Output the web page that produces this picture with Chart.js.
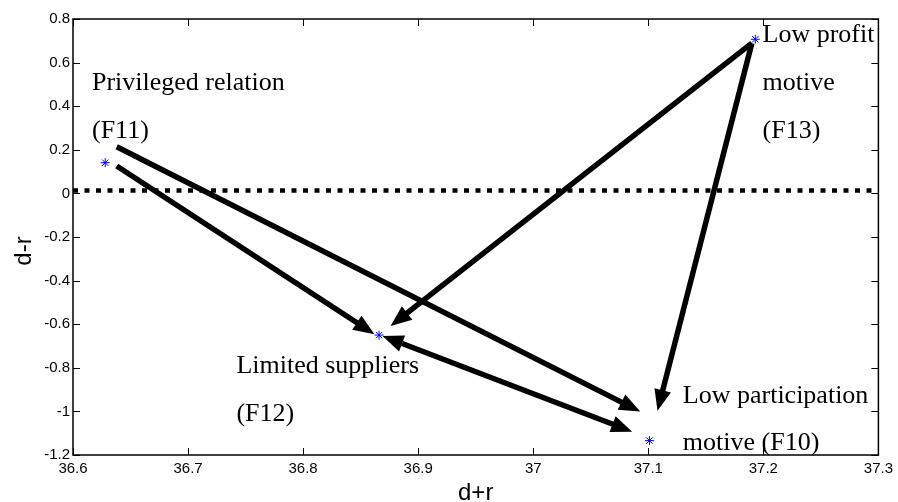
<!DOCTYPE html>
<html>
<head>
<meta charset="utf-8">
<script src="https://cdn.jsdelivr.net/npm/chart.js@4"></script>
<style>
  html, body { margin: 0; padding: 0; background: #fff; }
  #wrap { width: 898px; height: 502px; }
</style>
</head>
<body>
<div id="wrap"><canvas id="c" width="898" height="502"></canvas></div>
<script>
// factor points (d+r, d-r)
const pointX = [36.628, 36.866, 37.101, 37.193];
const pointY = [0.141, -0.650, -1.134, 0.707];

// threshold line
const refLineX = [36.6, 37.294];
const refLineY = [0.013, 0.013];

// arrows: from -> to (data units), double = heads at both ends
const arrowFromX = [36.638, 36.638, 37.190, 37.190, 36.869];
const arrowFromY = [0.214, 0.126, 0.689, 0.689, -0.654];
const arrowToX = [37.093, 36.862, 36.876, 37.108, 37.086];
const arrowToY = [-1.001, -0.646, -0.608, -0.997, -1.093];
const arrowDouble = [false, false, false, false, true];

// text annotations (left x, baseline y, data units)
const labelText = ['Privileged relation', '(F11)', 'Low profit', 'motive', '(F13)',
  'Limited suppliers', '(F12)', 'Low participation', 'motive (F10)'];
const labelX = [36.6165, 36.6165, 37.1993, 37.1993, 37.1993, 36.742, 36.742, 37.130, 37.130];
const labelY = [0.474, 0.254, 0.694, 0.474, 0.254, -0.824, -1.044, -0.963, -1.177];

const fmt = v => String(Number(v.toFixed(1)));

function arrowHead(ctx, tx, ty, ux, uy, len, w) {
  const bx = tx - ux * len, by = ty - uy * len;
  ctx.beginPath();
  ctx.moveTo(tx, ty);
  ctx.lineTo(bx - uy * w / 2, by + ux * w / 2);
  ctx.lineTo(bx + uy * w / 2, by - ux * w / 2);
  ctx.closePath();
  ctx.fill();
  return [bx, by];
}

const overlay = {
  id: 'overlay',
  afterDatasetsDraw(chart) {
    const { ctx, chartArea: a, scales: { x, y } } = chart;
    ctx.save();
    ctx.fillStyle = '#000';
    ctx.strokeStyle = '#000';

    // arrows
    const headLen = 21, headW = 17;
    ctx.lineWidth = 5.5;
    ctx.lineCap = 'butt';
    for (let i = 0; i < arrowFromX.length; i++) {
      const x1 = x.getPixelForValue(arrowFromX[i]), y1 = y.getPixelForValue(arrowFromY[i]);
      const x2 = x.getPixelForValue(arrowToX[i]), y2 = y.getPixelForValue(arrowToY[i]);
      const d = Math.hypot(x2 - x1, y2 - y1);
      const ux = (x2 - x1) / d, uy = (y2 - y1) / d;
      const [bx, by] = arrowHead(ctx, x2, y2, ux, uy, headLen, headW);
      let sx = x1, sy = y1;
      if (arrowDouble[i]) [sx, sy] = arrowHead(ctx, x1, y1, -ux, -uy, headLen, headW);
      ctx.beginPath();
      ctx.moveTo(sx, sy);
      ctx.lineTo(bx + ux, by + uy);
      ctx.stroke();
    }

    // annotations
    ctx.font = '26px "Liberation Serif", "Times New Roman", serif';
    ctx.textAlign = 'left';
    ctx.textBaseline = 'alphabetic';
    labelText.forEach((t, i) => {
      ctx.fillText(t, x.getPixelForValue(labelX[i]), y.getPixelForValue(labelY[i]));
    });

    // axes box
    ctx.lineWidth = 1.5;
    ctx.strokeRect(a.left, a.top, a.right - a.left, a.bottom - a.top);

    // inward ticks on all sides
    ctx.lineWidth = 1;
    const tl = 7;
    ctx.beginPath();
    x.ticks.forEach(t => {
      const px = Math.round(x.getPixelForValue(t.value)) + 0.5;
      ctx.moveTo(px, a.bottom); ctx.lineTo(px, a.bottom - tl);
      ctx.moveTo(px, a.top); ctx.lineTo(px, a.top + tl);
    });
    y.ticks.forEach(t => {
      const py = Math.round(y.getPixelForValue(t.value)) + 0.5;
      ctx.moveTo(a.left, py); ctx.lineTo(a.left + tl, py);
      ctx.moveTo(a.right, py); ctx.lineTo(a.right - tl, py);
    });
    ctx.stroke();

    // axis titles
    ctx.font = '24px "Liberation Sans", Arial, sans-serif';
    ctx.textAlign = 'center';
    ctx.textBaseline = 'alphabetic';
    ctx.fillText('d+r', (a.left + a.right) / 2, 500);
    ctx.save();
    ctx.translate(31, (a.top + a.bottom) / 2 + 14);
    ctx.rotate(-Math.PI / 2);
    ctx.fillText('d-r', 0, 0);
    ctx.restore();

    ctx.restore();
  }
};

new Chart(document.getElementById('c'), {
  type: 'scatter',
  data: {
    datasets: [
      {
        type: 'line',
        data: refLineX.map((v, i) => ({ x: v, y: refLineY[i] })),
        borderColor: '#000',
        borderWidth: 4.5,
        borderDash: [5, 6.5],
        pointRadius: 0,
        fill: false,
      },
      {
        data: pointX.map((v, i) => ({ x: v, y: pointY[i] })),
        pointStyle: 'star',
        pointRadius: 4.5,
        borderColor: '#0000ff',
        backgroundColor: '#0000ff',
        borderWidth: 1,
      },
    ],
  },
  options: {
    responsive: false,
    animation: false,
    devicePixelRatio: 1,
    layout: { padding: { top: 19, right: 18, left: 0, bottom: 0 } },
    plugins: { legend: { display: false }, tooltip: { enabled: false } },
    scales: {
      x: {
        type: 'linear',
        min: 36.6, max: 37.3,
        grid: { display: false, drawTicks: false },
        border: { display: false },
        ticks: { stepSize: 0.1, color: '#000', padding: 5, maxRotation: 0,
          font: { family: '"Liberation Sans", Arial, sans-serif', size: 15 }, callback: fmt },
        afterFit(s) { s.height = 47; },
      },
      y: {
        min: -1.2, max: 0.8,
        grid: { display: false, drawTicks: false },
        border: { display: false },
        ticks: { stepSize: 0.2, color: '#000', padding: 3,
          font: { family: '"Liberation Sans", Arial, sans-serif', size: 15 }, callback: fmt },
        afterFit(s) { s.width = 73; },
      },
    },
  },
  plugins: [overlay],
});
</script>
</body>
</html>
